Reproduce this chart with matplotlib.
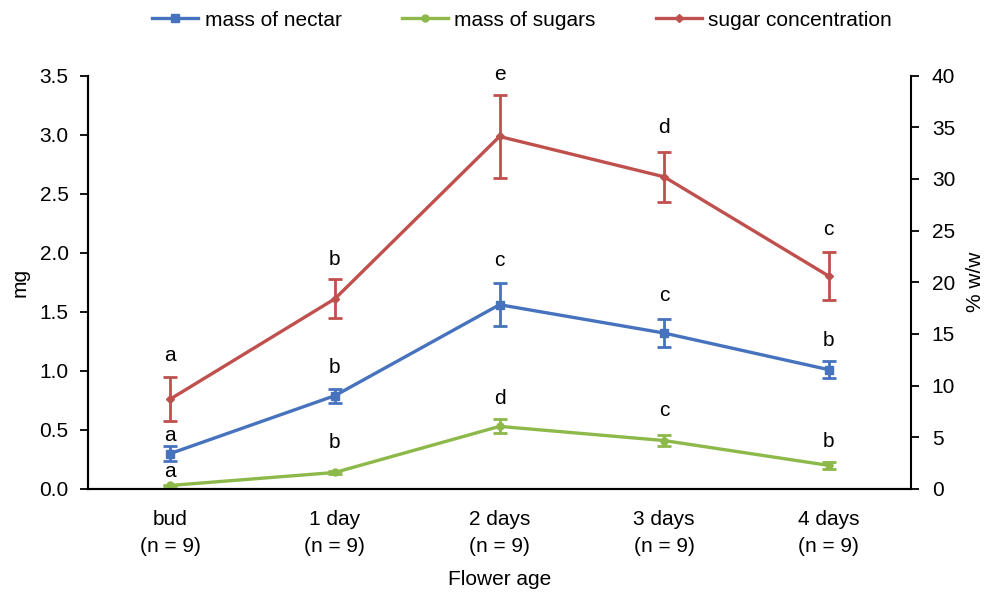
import matplotlib
matplotlib.use("Agg")
import matplotlib.pyplot as plt
from matplotlib.lines import Line2D
import numpy as np

plt.rcParams['font.family'] = ['Liberation Sans', 'DejaVu Sans']

categories = ["bud\n(n = 9)", "1 day\n(n = 9)", "2 days\n(n = 9)", "3 days\n(n = 9)", "4 days\n(n = 9)"]

nectar = [0.30, 0.79, 1.56, 1.32, 1.01]
nectar_err = [0.06, 0.06, 0.18, 0.12, 0.07]
nectar_letters = ["a", "b", "c", "c", "b"]

sugars = [0.03, 0.14, 0.53, 0.41, 0.20]
sugars_err = [0.005, 0.015, 0.06, 0.05, 0.03]
sugars_letters = ["a", "b", "d", "c", "b"]

conc = [8.7, 18.4, 34.1, 30.2, 20.6]
conc_err = [2.1, 1.9, 4.0, 2.4, 2.3]
conc_letters = ["a", "b", "e", "d", "c"]

# letter offsets above error-bar tops, in pixels
nectar_off = [11, 21, 23, 23, 21]
sugars_off = [13, 28, 21, 24, 20]
conc_off = [22, 20, 21, 24, 23]

c_blue = '#4672BE'
c_green = '#8DB84A'
c_red = '#C0504D'

fig = plt.figure(figsize=(9.87, 5.92), dpi=100)
ax = fig.add_axes([88/987, 1-489/592, (911-88)/987, (489-75.5)/592])
ax2 = ax.twinx()

x = np.arange(len(categories))
fs = 15

ekw = dict(lw=2.4, capsize=4.7, capthick=2.0, elinewidth=2.0, zorder=3)
ax.errorbar(x, nectar, yerr=nectar_err, color=c_blue, marker='s', ms=6, **ekw)
ax.errorbar(x, sugars, yerr=sugars_err, color=c_green, marker='o', ms=5, **ekw)
ax2.errorbar(x, conc, yerr=conc_err, color=c_red, marker='D', ms=4.5, **ekw)

for xi, v, e, lt, off in zip(x, nectar, nectar_err, nectar_letters, nectar_off):
    ax.annotate(lt, (xi, v + e), xytext=(0, off), textcoords='offset pixels',
                ha='center', va='center', fontsize=fs)
for xi, v, e, lt, off in zip(x, sugars, sugars_err, sugars_letters, sugars_off):
    ax.annotate(lt, (xi, v + e), xytext=(0, off), textcoords='offset pixels',
                ha='center', va='center', fontsize=fs)
for xi, v, e, lt, off in zip(x, conc, conc_err, conc_letters, conc_off):
    ax2.annotate(lt, (xi, v + e), xytext=(0, off), textcoords='offset pixels',
                 ha='center', va='center', fontsize=fs)

ax.set_xlim(-0.5, len(categories) - 0.5)
ax.set_ylim(0, 3.5)
ax2.set_ylim(0, 40)
yt = np.arange(0, 3.51, 0.5)
ax.set_yticks(yt)
ax.set_yticklabels([f"{v:.1f}" for v in yt])
ax2.set_yticks(np.arange(0, 41, 5))
ax.set_xticks(x)
ax.set_xticklabels(categories, fontsize=fs, linespacing=1.55)

ax.tick_params(axis='x', length=0, pad=15)
ax.tick_params(axis='y', direction='out', length=6, width=1.3, labelsize=fs, pad=8)
ax2.tick_params(axis='y', direction='out', length=6, width=1.3, labelsize=fs, pad=9)

for a in (ax, ax2):
    a.spines['top'].set_visible(False)
    for s in ('left', 'right', 'bottom'):
        a.spines[s].set_linewidth(1.5)
ax.spines['right'].set_visible(False)

ax.set_ylabel('mg', fontsize=fs, labelpad=7)
ax2.set_ylabel('% w/w', fontsize=fs, labelpad=8)
ax.set_xlabel('Flower age', fontsize=fs, labelpad=10)

handles = [Line2D([], [], color=c_blue, lw=2.4, marker='s', ms=6),
           Line2D([], [], color=c_green, lw=2.4, marker='o', ms=5),
           Line2D([], [], color=c_red, lw=2.4, marker='D', ms=4.5)]
fig.legend(handles, ['mass of nectar', 'mass of sugars', 'sugar concentration'],
           loc='center', bbox_to_anchor=(522/987, 1-20/592), ncol=3, frameon=False,
           fontsize=fs, handlelength=2.2, columnspacing=2.9, handletextpad=0.3)

fig.savefig('out.png', dpi=100)
